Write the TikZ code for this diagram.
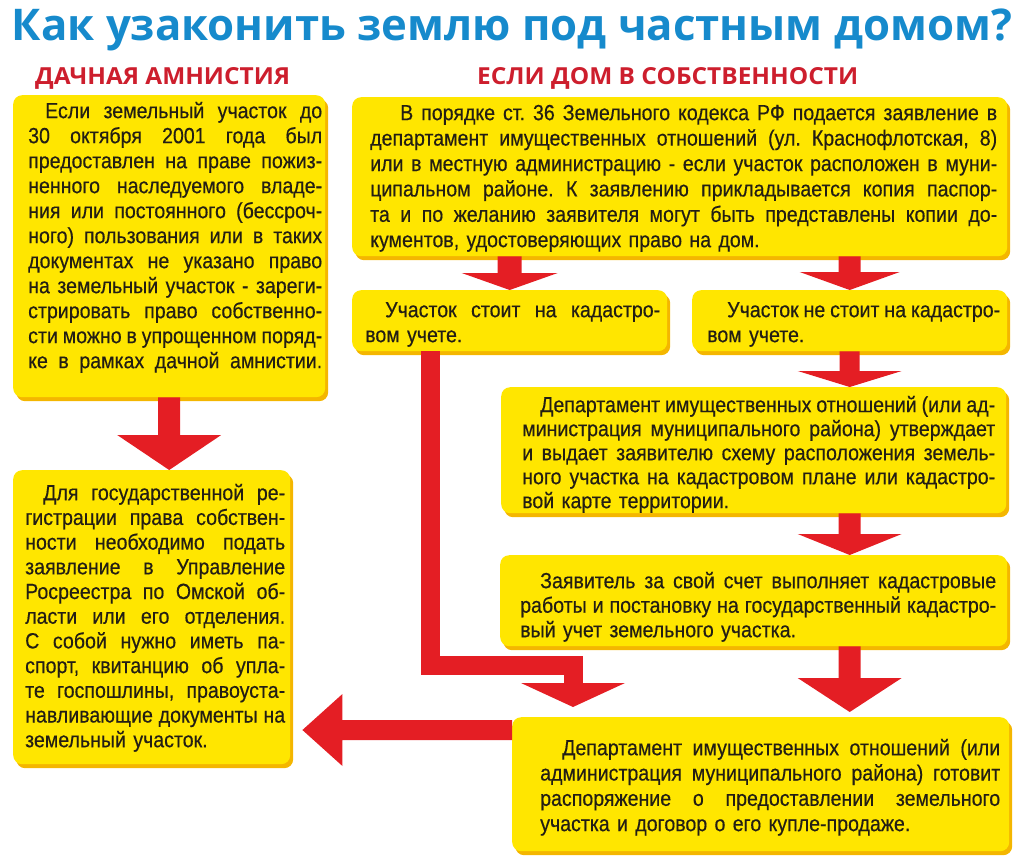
\documentclass[tikz,border=0pt]{standalone}
\usepackage{fontspec}
\usepackage{graphicx}
\setmainfont{Liberation Sans}[FakeStretch=0.89, FakeBold=0.4]
\newfontfamily\titlefont{Open Sans}
\usetikzlibrary{shadows,calc}
\setlength{\parindent}{0pt}
\hbadness=10000
\hfuzz=20pt
\definecolor{ttlblue}{RGB}{22,138,204}
\definecolor{hdred}{RGB}{205,30,45}
\definecolor{arrred}{RGB}{228,30,36}
\definecolor{byel}{RGB}{255,230,0}
\definecolor{borange}{RGB}{244,182,0}
\definecolor{txt}{RGB}{35,30,20}
\def\JLend{JLend-marker}
\def\JLw#1 #2\JLstop{#1\ifx\JLend#2\else\hskip 4pt plus 1fil minus 1.5pt\relax\JLw#2\JLstop\fi}
\newcommand\JL[1]{\hbox to \lw{\JLw#1 \JLend\JLstop}}
\newcommand\LL[1]{\hbox{#1}}
\newcommand\FL{\rule{0pt}{21pt}}
\newcommand\bodyfont[1]{\fontsize{22}{#1}\selectfont}
\newcommand\downarrowblock[5]{%
  \fill[arrred] let \p1=#1, \p2=#2 in
    (\x1-#3,\y1) -- (\x1+#3,\y1) -- (\x1+#3,\y2+#5) -- (\x1+#4,\y2+#5)
    -- (\x1,\y2) -- (\x1-#4,\y2+#5) -- (\x1-#3,\y2+#5) -- cycle;}
\begin{document}
\begin{tikzpicture}[x=1pt,y=-1pt,
  ybox/.style={fill=byel, rounded corners=9pt, inner sep=0pt, anchor=north west,
    drop shadow={shadow xshift=3pt, shadow yshift=-4pt, fill=borange, opacity=1}},
  btext/.style={anchor=north west, inner sep=0pt, text width=#1, text=txt,
    font=\bodyfont{25pt}, execute at begin node={\def\lw{#1}}},
  hdr/.style={anchor=base west, inner sep=0pt, text=hdred, font=\titlefont\bfseries},
  elbow/.style={draw=arrred, line width=19pt, line cap=butt, line join=miter}]
\useasboundingbox (0,0) rectangle (1024,859);

% title and headers
\node[anchor=base, inner sep=0pt, text=ttlblue, font=\titlefont\bfseries] (title) at (512,41)
  {\resizebox{1000pt}{!}{Как узаконить землю под частным домом?}};
\node[hdr] (h1) at (35,84) {\resizebox{255pt}{17pt}{ДАЧНАЯ АМНИСТИЯ}};
\node[hdr] (h2) at (477,84) {\resizebox{381pt}{17pt}{ЕСЛИ ДОМ В СОБСТВЕННОСТИ}};

% boxes
\node[ybox, minimum width=312pt, minimum height=302pt] (L1) at (13,95) {};
\node[ybox, minimum width=277pt, minimum height=294pt] (L2) at (13,470) {};
\node[ybox, minimum width=655pt, minimum height=159pt] (R1) at (352,97) {};
\node[ybox, minimum width=315pt, minimum height=61pt] (R2a) at (352,290) {};
\node[ybox, minimum width=315pt, minimum height=61pt] (R2b) at (692,290) {};
\node[ybox, minimum width=505pt, minimum height=126pt] (R3) at (501,387) {};
\node[ybox, minimum width=507pt, minimum height=91pt] (R4) at (500,555) {};
\node[ybox, minimum width=497pt, minimum height=134pt] (R5) at (512,717) {};

% texts
\node[btext=294pt] (tL1) at (28,97) {%
\JL{\hspace*{17pt}\FL Если земельный участок до}
\JL{30 октября 2001 года был}
\JL{предоставлен на праве пожиз-}
\JL{ненного наследуемого владе-}
\JL{ния или постоянного (бессроч-}
\JL{ного) пользования или в таких}
\JL{документах не указано право}
\JL{на земельный участок - зареги-}
\JL{стрировать право собственно-}
\JL{сти можно в упрощенном поряд-}
\JL{ке в рамках дачной амнистии.}};

\node[btext=260pt, font=\bodyfont{24.7pt}] (tL2) at (25,479) {%
\JL{\hspace*{18pt}\FL Для государственной ре-}
\JL{гистрации права собствен-}
\JL{ности необходимо подать}
\JL{заявление в Управление}
\JL{Росреестра по Омской об-}
\JL{ласти или его отделения.}
\JL{С собой нужно иметь па-}
\JL{спорт, квитанцию об упла-}
\JL{те госпошлины, правоуста-}
\JL{навливающие документы на}
\LL{земельный участок.}};

\node[btext=627pt, font=\bodyfont{25.4pt}] (tR1) at (370,99) {%
\JL{\hspace*{30pt}\FL В порядке ст. 36 Земельного кодекса РФ подается заявление в}
\JL{департамент имущественных отношений (ул. Краснофлотская, 8)}
\JL{или в местную администрацию - если участок расположен в муни-}
\JL{ципальном районе. К заявлению прикладывается копия паспор-}
\JL{та и по желанию заявителя могут быть представлены копии до-}
\LL{кументов, удостоверяющих право на дом.}};

\node[btext=295pt] (tR2a) at (365,296) {%
\JL{\hspace*{20pt}\FL Участок стоит на кадастро-}
\LL{вом учете.}};

\node[btext=293pt] (tR2b) at (707,296) {%
\JL{\hspace*{20pt}\FL Участок не стоит на кадастро-}
\LL{вом учете.}};

\node[btext=473pt, font=\bodyfont{24pt}] (tR3) at (522,391) {%
\JL{\hspace*{18pt}\FL Департамент имущественных отношений (или ад-}
\JL{министрация муниципального района) утверждает}
\JL{и выдает заявителю схему расположения земель-}
\JL{ного участка на кадастровом плане или кадастро-}
\LL{вой карте территории.}};

\node[btext=476pt, font=\bodyfont{24.5pt}] (tR4) at (520,567) {%
\JL{\hspace*{20pt}\FL Заявитель за свой счет выполняет кадастровые}
\JL{работы и постановку на государственный кадастро-}
\LL{вый учет земельного участка.}};

\node[btext=460pt, font=\bodyfont{25.3pt}] (tR5) at (540,734) {%
\JL{\hspace*{22pt}\FL Департамент имущественных отношений (или}
\JL{администрация муниципального района) готовит}
\JL{распоряжение о предоставлении земельного}
\LL{участка и договор о его купле-продаже.}};

% straight block arrows
\downarrowblock{(L1.south)}{(L2.north)}{11}{52}{35}
\downarrowblock{(R2a.north |- R1.south)}{(R2a.north)}{12}{48}{17}
\downarrowblock{(R2b.north |- R1.south)}{(R2b.north)}{11}{50}{18}
\downarrowblock{(R2b.south)}{(R2b.south |- R3.north)}{10}{52}{16}
\downarrowblock{(R2b.south |- R3.south)}{(R2b.south |- R4.north)}{11}{52}{21}
\coordinate (t6) at ($(R2b.south |- R5.north)+(0,-5)$);
\downarrowblock{(R2b.south |- R4.south)}{(t6)}{11}{52}{34}

% elbow connector from R2a to R5
\coordinate (e0) at ($(R2a.south west)+(78,0)$);
\coordinate (e1) at ($(e0 |- R5.north)+(0,-52)$);
\coordinate (e2) at ($(R5.north west)+(61,-52)$);
\coordinate (e4) at ($(R5.north west)+(61,-34)$);
\coordinate (e3) at ($(R5.north west)+(61,-10)$);
\draw[elbow] (e0) -- (e1) -- (e2) -- (e4);
\fill[arrred] ($(e4)+(-52,0)$) -- ($(e4)+(52,0)$) -- (e3) -- cycle;

% leftward arrow from R5 to L2
\coordinate (h0) at ($(R5.north west)+(0,13)$);
\coordinate (h1) at ($(L2.east |- h0)+(12,0)$);
\fill[arrred] let \p1=(h0), \p2=(h1) in
  (\x1,\y1-10) -- (\x2+40,\y1-10) -- (\x2+40,\y1-36) -- (\x2,\y1)
  -- (\x2+40,\y1+36) -- (\x2+40,\y1+10) -- (\x1,\y1+10) -- cycle;
\end{tikzpicture}
\end{document}
